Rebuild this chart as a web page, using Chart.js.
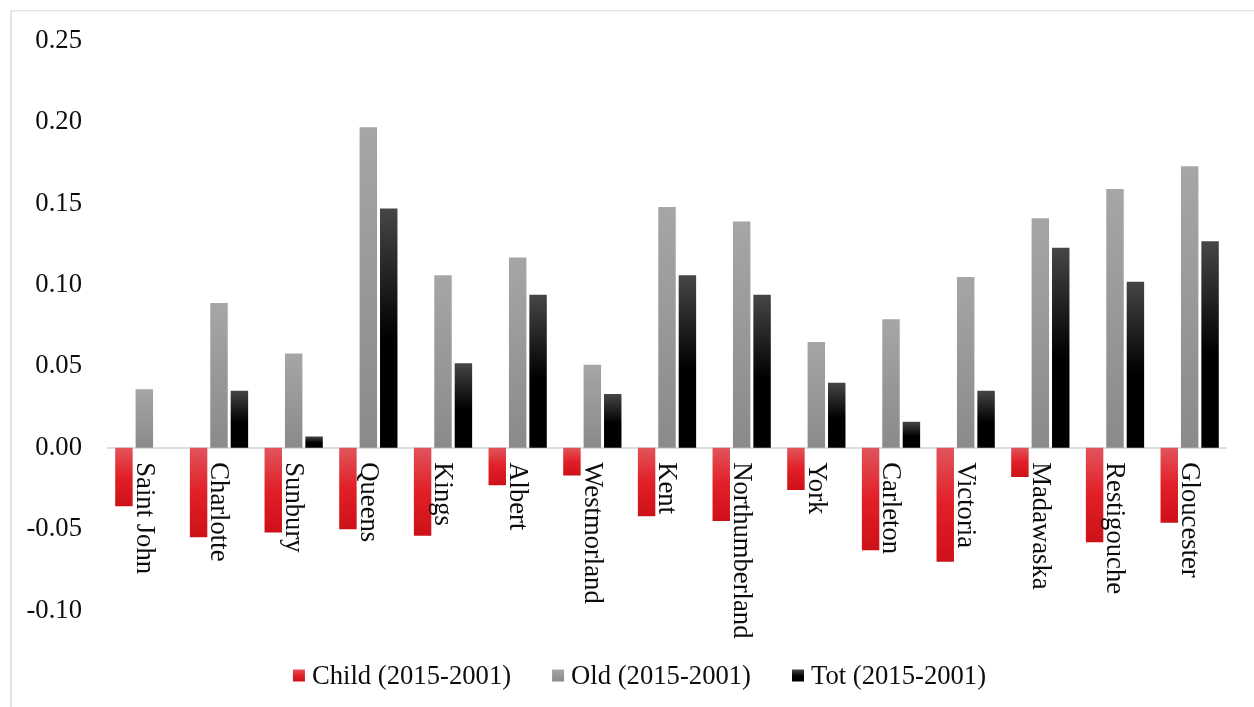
<!DOCTYPE html>
<html>
<head>
<meta charset="utf-8">
<title>New Brunswick counties: change 2001–2015</title>
<script src="https://cdn.jsdelivr.net/npm/chart.js@4.4.1/dist/chart.umd.min.js"></script>
<style>
  html, body { margin: 0; padding: 0; background: #ffffff; }
  #wrap { width: 1254px; height: 707px; position: relative; }
</style>
</head>
<body>
<div id="wrap"><canvas id="chart" width="1254" height="707"></canvas></div>
<script>
// Counties, in display order
const counties = ['Saint John', 'Charlotte', 'Sunbury', 'Queens', 'Kings', 'Albert', 'Westmorland',
  'Kent', 'Northumberland', 'York', 'Carleton', 'Victoria', 'Madawaska', 'Restigouche', 'Gloucester'];

// Change in population share, 2015 vs 2001
const childChange = [-0.036, -0.055, -0.052, -0.050, -0.054, -0.023, -0.017,
  -0.042, -0.045, -0.026, -0.063, -0.070, -0.018, -0.058, -0.046];
const oldChange = [0.036, 0.089, 0.058, 0.197, 0.106, 0.117, 0.051,
  0.148, 0.139, 0.065, 0.079, 0.105, 0.141, 0.159, 0.173];
const totChange = [0.000, 0.035, 0.007, 0.147, 0.052, 0.094, 0.033,
  0.106, 0.094, 0.040, 0.016, 0.035, 0.123, 0.102, 0.127];

const seriesNames = ['Child (2015-2001)', 'Old (2015-2001)', 'Tot (2015-2001)'];

// Value axis range and step
const yMin = -0.10;
const yMax = 0.25;
const yStep = 0.05;

const FONT = "'Liberation Serif', 'Times New Roman', serif";
const FONT_SIZE = 26.67;
const TEXT = '#0d0d0d';

// Gradient stops, from the zero line outwards to the bar end
const childStops = [[0, '#e1545b'], [0.5, '#e21f27'], [1, '#cd1118']];
const oldStops = [[0, '#8a8a8a'], [1, '#a6a6a6']];
const totStops = [[0, '#000000'], [0.45, '#000000'], [1, '#464646']];

function gradientBetween(ctx2d, yFrom, yTo, stops) {
  const g = ctx2d.createLinearGradient(0, yFrom, 0, yTo);
  stops.forEach(([o, c]) => g.addColorStop(o, c));
  return g;
}

// Each bar gets its own gradient running from the zero line to its end
function barFill(stops) {
  return (context) => {
    const chart = context.chart;
    const y = chart.scales && chart.scales.y;
    if (!y || context.type !== 'data' || !context.parsed) return stops[stops.length - 1][1];
    const y0 = y.getPixelForValue(0);
    const y1 = y.getPixelForValue(context.parsed.y);
    if (!isFinite(y0) || !isFinite(y1) || Math.abs(y1 - y0) < 0.5) return stops[stops.length - 1][1];
    return gradientBetween(chart.ctx, y0, y1, stops);
  };
}

// Light frame around the figure
const framePlugin = {
  id: 'frame',
  beforeDraw(chart) {
    const c = chart.ctx;
    c.save();
    c.fillStyle = '#ffffff';
    c.fillRect(0, 0, chart.width, chart.height);
    c.fillStyle = '#e1e5ed';
    c.fillRect(10, 10, 2, chart.height - 10);
    c.fillRect(10, 10, chart.width - 10, 1.5);
    c.restore();
  }
};

// County names, written top to bottom just under the zero line
const categoryLabelPlugin = {
  id: 'categoryLabels',
  afterDatasetsDraw(chart) {
    const x = chart.scales.x;
    const y = chart.scales.y;
    const c = chart.ctx;
    const top = y.getPixelForValue(0) + 14.5;
    c.save();
    c.font = FONT_SIZE + 'px ' + FONT;
    c.fillStyle = TEXT;
    c.textAlign = 'left';
    c.textBaseline = 'middle';
    counties.forEach((name, i) => {
      const px = x.getPixelForValue(i);
      c.save();
      c.translate(px, top);
      c.rotate(Math.PI / 2);
      c.fillText(name, 0, 0.5);
      c.restore();
    });
    c.restore();
  }
};

// Legend row under the plot
const legendPlugin = {
  id: 'bottomLegend',
  afterDraw(chart) {
    const c = chart.ctx;
    const allStops = [childStops, oldStops, totStops];
    const box = 12, gapBoxText = 7, gapItems = 41;
    const cy = 676;
    c.save();
    c.font = FONT_SIZE + 'px ' + FONT;
    const widths = seriesNames.map(t => c.measureText(t).width);
    let total = 0;
    widths.forEach((w, i) => { total += box + gapBoxText + w + (i ? gapItems : 0); });
    let x = 639.5 - total / 2;
    seriesNames.forEach((name, i) => {
      const by = cy - box / 2 - 0.5;
      // legend boxes shade top-down like the bars they stand for
      const stops = allStops[i];
      const fill = (i === 0)
        ? gradientBetween(c, by, by + box, stops)
        : gradientBetween(c, by + box, by, stops);
      c.fillStyle = fill;
      c.fillRect(x, by, box, box);
      x += box + gapBoxText;
      c.fillStyle = TEXT;
      c.textAlign = 'left';
      c.textBaseline = 'middle';
      c.fillText(name, x, cy + 1);
      x += widths[i] + gapItems;
    });
    c.restore();
  }
};

const chart = new Chart(document.getElementById('chart'), {
  type: 'bar',
  data: {
    labels: counties,
    datasets: [
      { label: seriesNames[0], data: childChange, backgroundColor: barFill(childStops) },
      { label: seriesNames[1], data: oldChange, backgroundColor: barFill(oldStops) },
      { label: seriesNames[2], data: totChange, backgroundColor: barFill(totStops) }
    ]
  },
  options: {
    responsive: false,
    animation: false,
    devicePixelRatio: 1,
    layout: { padding: { left: 0, top: 40, right: 27, bottom: 96.5 } },
    datasets: {
      bar: { categoryPercentage: 0.82, barPercentage: 0.855, borderWidth: 0 }
    },
    scales: {
      x: {
        type: 'category',
        display: false,
        offset: true
      },
      y: {
        min: yMin,
        max: yMax,
        afterFit(scale) { scale.width = 107; },
        border: { display: false },
        grid: {
          drawTicks: false,
          lineWidth: 2,
          color: (ctx) => (ctx.tick && Math.abs(ctx.tick.value) < 1e-9) ? '#dadee6' : 'rgba(0,0,0,0)'
        },
        ticks: {
          stepSize: yStep,
          padding: 25,
          color: TEXT,
          font: { family: FONT, size: FONT_SIZE },
          callback: (v) => (Math.abs(v) < 1e-9 ? 0 : Number(v)).toFixed(2)
        }
      }
    },
    plugins: {
      legend: { display: false },
      tooltip: { enabled: false }
    }
  },
  plugins: [framePlugin, categoryLabelPlugin, legendPlugin]
});
</script>
</body>
</html>
